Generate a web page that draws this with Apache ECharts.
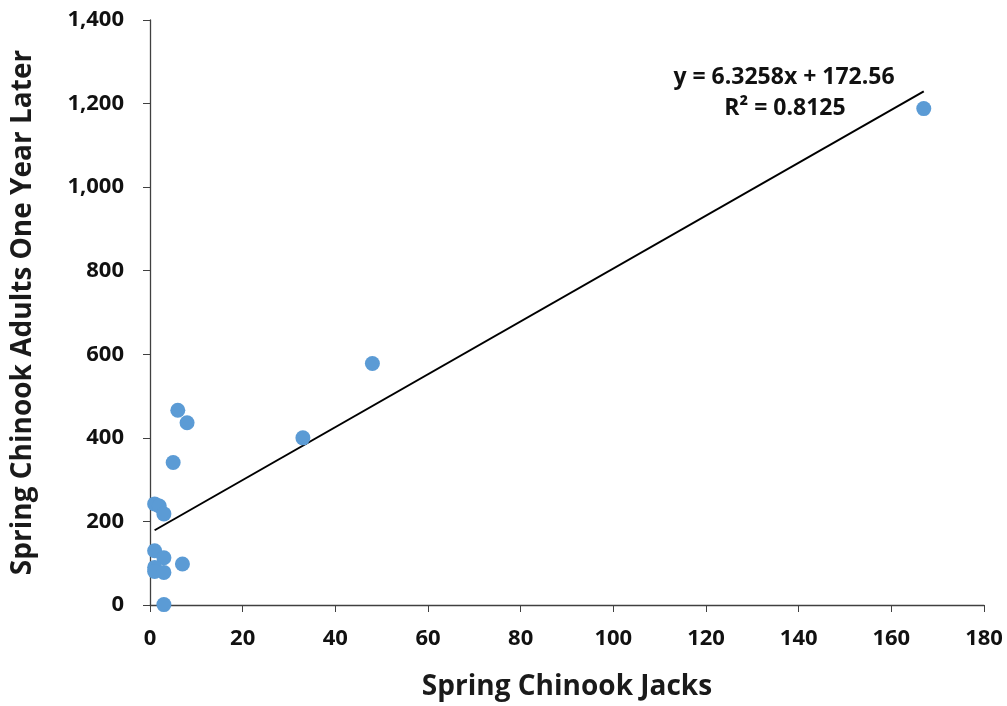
<!DOCTYPE html>
<html><head><meta charset="utf-8">
<script src="https://cdn.jsdelivr.net/npm/echarts@6/dist/echarts.min.js"></script>
<style>html,body{margin:0;padding:0;background:#fff}#c{width:1007px;height:706px}</style>
</head><body><div id="c"></div>
<script>
const jacks  = [6, 8, 5, 1, 2, 3, 1, 3, 7, 1, 1, 3, 3, 33, 48, 167];
const adults = [466, 436, 341, 242, 237, 218, 130, 113, 98, 90, 80, 78, 1, 400, 578, 1188];
const trend = { slope: 6.3258, intercept: 172.56, r2: 0.8125 };
const xTicks = [0, 20, 40, 60, 80, 100, 120, 140, 160, 180];
const yTicks = [0, 200, 400, 600, 800, 1000, 1200, 1400];

const pts = jacks.map((x, i) => [x, adults[i]]);
const xmin = Math.min(...jacks), xmax = Math.max(...jacks);
const trendPts = [[xmin, trend.slope * xmin + trend.intercept], [xmax, trend.slope * xmax + trend.intercept]];
const F = '"Open Sans", "Noto Sans", sans-serif';
const chart = echarts.init(document.getElementById('c'));
chart.setOption({
  animation: false,
  grid: { left: 150, right: 23, top: 20, bottom: 100 },
  xAxis: {
    type: 'value', min: xTicks[0], max: xTicks[xTicks.length - 1], interval: xTicks[1] - xTicks[0],
    name: 'Spring Chinook Jacks', nameLocation: 'middle', nameGap: 68,
    nameTextStyle: { fontFamily: F, fontWeight: 'bold', fontSize: 28, color: '#1a1a1a' },
    axisLine: { lineStyle: { color: '#404040', width: 1.3 } },
    axisTick: { show: true, length: 7, lineStyle: { color: '#404040' } },
    axisLabel: { fontFamily: F, fontWeight: 'bold', fontSize: 22, color: '#111', margin: 23 },
    splitLine: { show: false }
  },
  yAxis: {
    type: 'value', min: yTicks[0], max: yTicks[yTicks.length - 1], interval: yTicks[1] - yTicks[0],
    name: 'Spring Chinook Adults One Year Later', nameLocation: 'middle', nameGap: 113,
    nameTextStyle: { fontFamily: F, fontWeight: 'bold', fontSize: 28, color: '#1a1a1a' },
    axisLine: { show: true, lineStyle: { color: '#404040', width: 1.3 } },
    axisTick: { show: true, length: 7, lineStyle: { color: '#404040' } },
    axisLabel: { fontFamily: F, fontWeight: 'bold', fontSize: 22, color: '#111', margin: 26,
      formatter: v => v.toLocaleString('en-US') },
    splitLine: { show: false }
  },
  series: [
    { type: 'line', data: trendPts, symbol: 'none', lineStyle: { color: '#000', width: 2 }, z: 1 },
    { type: 'scatter', data: pts, symbolSize: 15, itemStyle: { color: '#5B9BD5', opacity: 1 }, z: 2 }
  ],
  graphic: [
    { type: 'text', x: 784, y: 77, style: { text: 'y = 6.3258x + 172.56', fontFamily: F, fontWeight: 'bold', fontSize: 23, fill: '#111', align: 'center', verticalAlign: 'middle' } },
    { type: 'text', x: 785, y: 108, style: { text: 'R² = 0.8125', fontFamily: F, fontWeight: 'bold', fontSize: 23, fill: '#111', align: 'center', verticalAlign: 'middle' } }
  ]
});
</script></body></html>
